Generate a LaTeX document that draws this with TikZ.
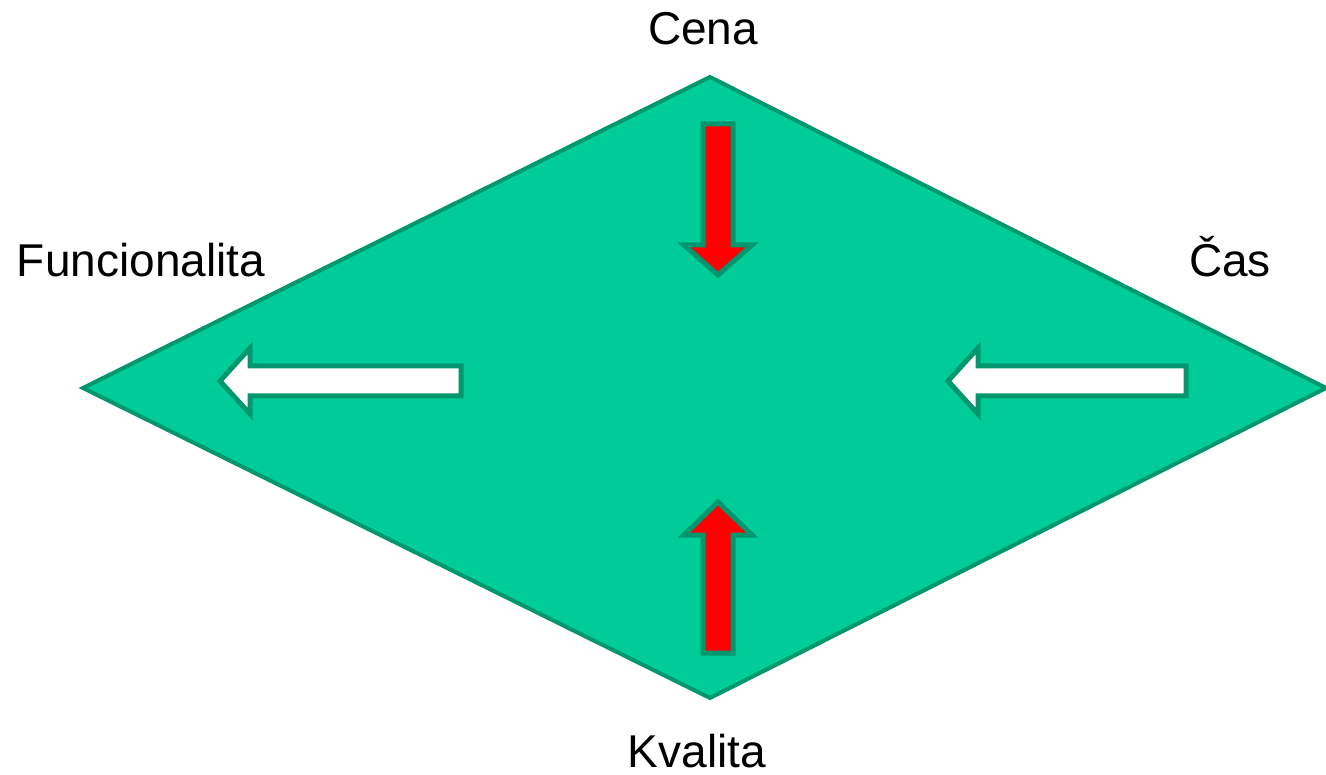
\documentclass[tikz,border=0pt]{standalone}
\usepackage{fontspec}
\setmainfont{Liberation Sans}
\definecolor{diamondgreen}{RGB}{0,204,153}
\definecolor{edgegreen}{RGB}{0,150,110}
\definecolor{arrowred}{RGB}{255,0,0}

\begin{document}
\begin{tikzpicture}[
  x=1pt, y=-1pt,
  cornerlabel/.style={font=\fontsize{46}{55}\selectfont, inner sep=0pt, anchor=base},
  blockarrow/.style={draw=edgegreen, line width=5pt, line join=miter},
  rhomb/.style={draw=edgegreen, fill=diamondgreen, line width=4pt, line join=miter}
]
  \useasboundingbox (0,0) rectangle (1326,775);

  % the diamond
  \draw[rhomb] (710,77) -- (1326,388) -- (710,698) -- (83,388) -- cycle;

  % red arrows (Cena, Kvalita)
  \draw[blockarrow, fill=arrowred] (703,124) -- (733,124) -- (733,245) -- (752,245)
    -- (718,275) -- (684,245) -- (703,245) -- cycle;
  \draw[blockarrow, fill=arrowred] (703,653) -- (733,653) -- (733,535) -- (752,535)
    -- (718,502) -- (684,535) -- (703,535) -- cycle;

  % white arrows (Funcionalita, Cas)
  \draw[blockarrow, fill=white] (461,366) -- (461,396) -- (250,396) -- (250,414)
    -- (220,381) -- (250,348) -- (250,366) -- cycle;
  \draw[blockarrow, fill=white] (1186,366) -- (1186,396) -- (978,396) -- (978,414)
    -- (948,381) -- (978,348) -- (978,366) -- cycle;

  % labels
  \node[cornerlabel] (cena) at (703,45) {Cena};
  \node[cornerlabel] (funkce) at (141,277) {Funcionalita};
  \node[cornerlabel] (cas) at (1230,277) {Čas};
  \node[cornerlabel] (kvalita) at (697,767) {Kvalita};
\end{tikzpicture}
\end{document}
